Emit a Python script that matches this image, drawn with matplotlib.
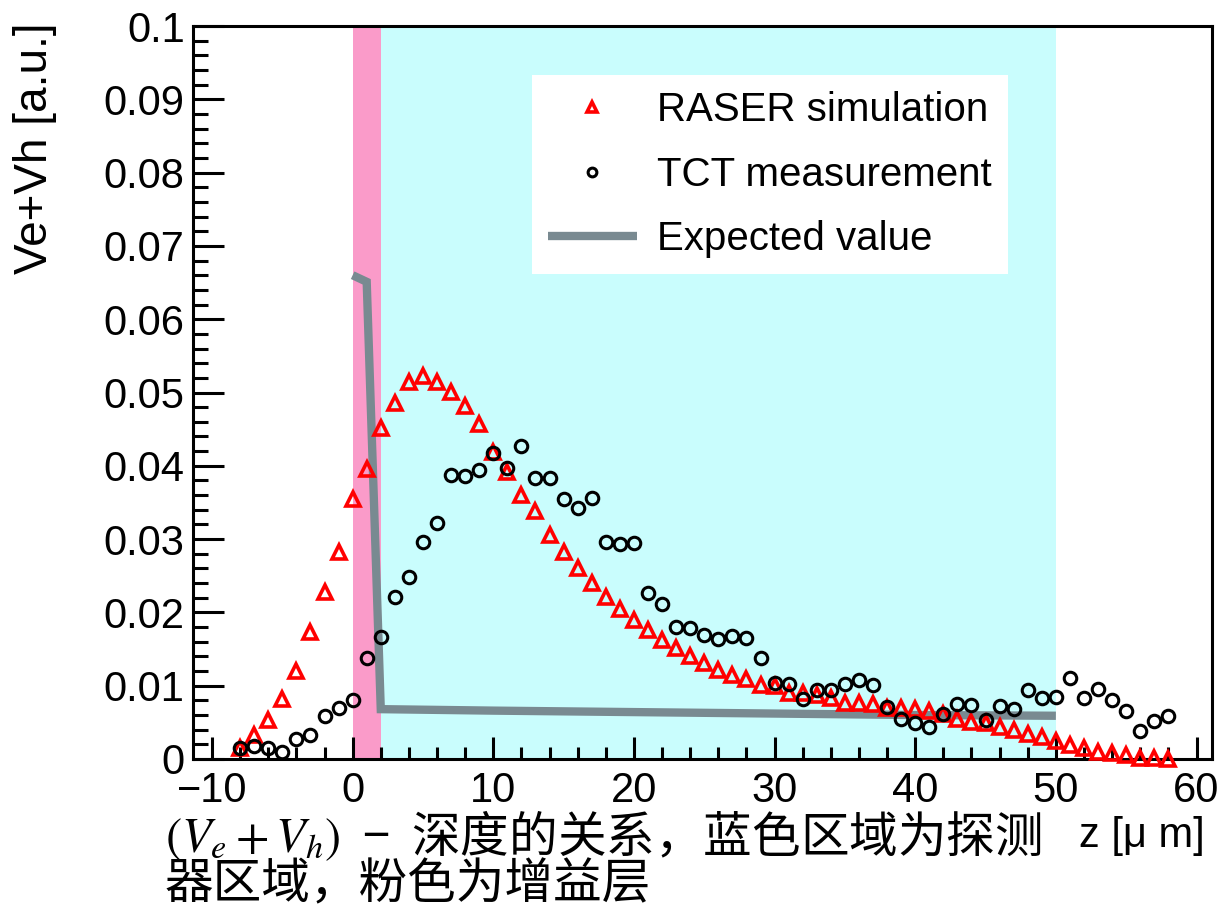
import matplotlib
matplotlib.use("Agg")
import matplotlib.pyplot as plt
from matplotlib.ticker import MultipleLocator, FuncFormatter

plt.rcParams['font.family'] = ['Liberation Sans', 'DejaVu Sans']
plt.rcParams['mathtext.fontset'] = 'stix'

# depth positions (um) shared by simulation and measurement
depth = list(range(-8, 59))

raser_sim = [
    0.0015, 0.0033, 0.0053, 0.0082, 0.0120, 0.0173, 0.0228, 0.0283, 0.0355, 0.0396,
    0.0452, 0.0486, 0.0514, 0.0522, 0.0515, 0.0501, 0.0482, 0.0457, 0.0419, 0.0392,
    0.0360, 0.0338, 0.0306, 0.0282, 0.0260, 0.0240, 0.0221, 0.0204, 0.0190, 0.0176,
    0.0162, 0.0151, 0.0141, 0.0131, 0.0122, 0.0115, 0.0109, 0.0101, 0.0099, 0.0090,
    0.0090, 0.0087, 0.0083, 0.0077, 0.0076, 0.0075, 0.0070, 0.0069, 0.0068, 0.0066,
    0.0061, 0.0055, 0.0051, 0.0049, 0.0043, 0.0040, 0.0034, 0.0030, 0.0025, 0.0019,
    0.0015, 0.0010, 0.0008, 0.0005, 0.0002, 0.0001, 0.0000,
]

tct_meas = [
    0.0015, 0.0018, 0.0015, 0.0009, 0.0027, 0.0033, 0.0059, 0.0070, 0.0080, 0.0138,
    0.0167, 0.0221, 0.0248, 0.0296, 0.0322, 0.0387, 0.0386, 0.0394, 0.0418, 0.0397,
    0.0427, 0.0384, 0.0384, 0.0355, 0.0342, 0.0356, 0.0296, 0.0293, 0.0294, 0.0226,
    0.0211, 0.0180, 0.0179, 0.0169, 0.0164, 0.0168, 0.0165, 0.0138, 0.0104, 0.0103,
    0.0082, 0.0094, 0.0094, 0.0103, 0.0108, 0.0101, 0.0071, 0.0055, 0.0049, 0.0043,
    0.0062, 0.0075, 0.0074, 0.0053, 0.0072, 0.0068, 0.0094, 0.0083, 0.0084, 0.0110,
    0.0083, 0.0096, 0.0080, 0.0066, 0.0038, 0.0052, 0.0058,
]

# expected signal: gain layer spike then flat bulk
exp_z = [0, 1, 2, 10, 20, 30, 40, 50]
exp_v = [0.0660, 0.0651, 0.0068, 0.0066, 0.0064, 0.0062, 0.0060, 0.0059]

gain_layer = (0, 2)
detector = (2, 50)

W, H = 1217, 914
fig = plt.figure(figsize=(W / 100, H / 100), dpi=100)
ax = fig.add_axes([193 / W, 1 - 759 / H, (1212 - 193) / W, (759 - 26) / H])

ax.axvspan(*gain_layer, color='#fa9bc9', lw=0, zorder=0)
ax.axvspan(*detector, color='#c9fdfd', lw=0, zorder=0)

ax.plot(exp_z, exp_v, color='#798a91', lw=6, solid_capstyle='butt',
        solid_joinstyle='miter', zorder=2, label='Expected value')
ax.plot(depth, raser_sim, ls='none', marker='^', ms=10.5, mfc='none', mec='red',
        mew=2.6, zorder=3, clip_on=False, label='RASER simulation')
ax.plot(depth, tct_meas, ls='none', marker='o', ms=9, mfc='none', mec='black',
        mew=2.2, zorder=3, clip_on=False, label='TCT measurement')

ax.set_xlim(-11.35, 61.1)
ax.set_ylim(0, 0.1)
ax.xaxis.set_major_locator(MultipleLocator(10))
ax.xaxis.set_minor_locator(MultipleLocator(2))
ax.yaxis.set_major_locator(MultipleLocator(0.01))
ax.yaxis.set_minor_locator(MultipleLocator(0.002))
fmt = FuncFormatter(lambda v, p: ('%g' % round(v, 4)).replace('-', '\u2212'))
ax.xaxis.set_major_formatter(fmt)
ax.yaxis.set_major_formatter(fmt)

ax.tick_params(axis='both', which='both', direction='in', top=False, right=False,
               width=2.2, labelsize=30)
ax.tick_params(axis='y', which='major', length=22, pad=6)
ax.tick_params(axis='y', which='minor', length=11)
ax.tick_params(axis='x', which='major', length=16, pad=9)
ax.tick_params(axis='x', which='minor', length=8.5)
for s in ax.spines.values():
    s.set_linewidth(2.2)

handles, labels = ax.get_legend_handles_labels()
order = [1, 2, 0]
leg = ax.legend([handles[i] for i in order], [labels[i] for i in order],
                loc='upper left', bbox_to_anchor=(532 / W, 1 - 75 / H),
                bbox_transform=fig.transFigure, fontsize=29, frameon=True,
                fancybox=False, framealpha=1, facecolor='white', edgecolor='none',
                borderpad=0.4, labelspacing=0.66, handlelength=2.2,
                handletextpad=0.5, markerscale=0.7, borderaxespad=0)
leg.set_zorder(5)

fig.text(35 / W, 1 - 22 / H, 'Ve+Vh [a.u.]', rotation=90, ha='center', va='top',
         fontsize=33)
fig.text(1205 / W, 1 - 836 / H, 'z [\u03bc m]', ha='right', va='center', fontsize=30)

cjk = ['Noto Sans CJK SC', 'DejaVu Sans']
fig.text(165 / W, 1 - 836 / H, r'$(V_e + V_h)$  −  深度的关系，蓝色区域为探测',
         ha='left', va='center', fontsize=35, family=cjk)
fig.text(165 / W, 1 - 885 / H, '器区域，粉色为增益层',
         ha='left', va='center', fontsize=35, family=cjk)

fig.savefig('out.png', dpi=100)
